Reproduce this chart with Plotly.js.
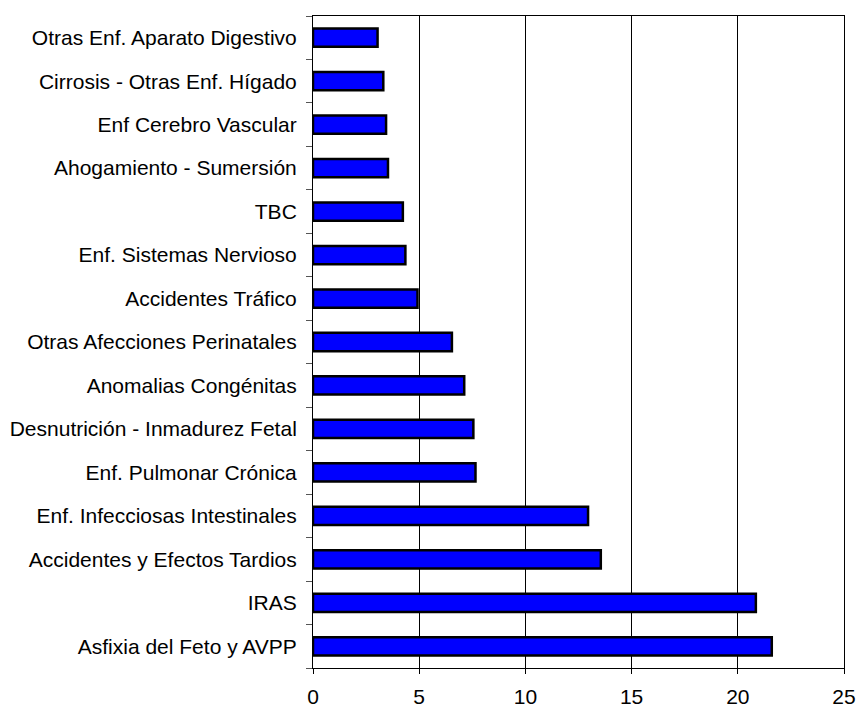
<!DOCTYPE html>
<html>
<head>
<meta charset="utf-8">
<script src="https://cdn.plot.ly/plotly-3.0.1.min.js"></script>
<style>html,body{margin:0;padding:0;background:#fff;}#chart{width:858px;height:707px;}</style>
</head>
<body>
<div id="chart"></div>
<script>
// categories from bottom to top
var categories = [
  "Asfixia del Feto y AVPP",
  "IRAS",
  "Accidentes y Efectos Tardios",
  "Enf. Infecciosas Intestinales",
  "Enf. Pulmonar Crónica",
  "Desnutrición - Inmadurez Fetal",
  "Anomalias Congénitas",
  "Otras Afecciones Perinatales",
  "Accidentes Tráfico",
  "Enf. Sistemas Nervioso",
  "TBC",
  "Ahogamiento - Sumersión",
  "Enf Cerebro Vascular",
  "Cirrosis - Otras Enf. Hígado",
  "Otras Enf. Aparato Digestivo"
];
var values = [21.6, 20.85, 13.55, 12.95, 7.65, 7.55, 7.12, 6.54, 4.92, 4.35, 4.23, 3.53, 3.44, 3.31, 3.04];
var xTicks = [0, 5, 10, 15, 20, 25];

var trace = {
  type: "bar",
  orientation: "h",
  x: values,
  y: categories,
  marker: {color: "#0000FF", line: {color: "#000000", width: 2.5}},
  hoverinfo: "x+y"
};

var layout = {
  width: 858,
  height: 707,
  margin: {l: 313, r: 14, t: 16, b: 39, pad: 0},
  paper_bgcolor: "#ffffff",
  plot_bgcolor: "#ffffff",
  showlegend: false,
  bargap: 0.58,
  font: {family: "Liberation Sans, Arial, sans-serif", size: 21, color: "#000"},
  xaxis: {
    range: [0, 25],
    tickvals: xTicks,
    ticktext: xTicks.map(String),
    showgrid: true,
    gridcolor: "#000000",
    gridwidth: 1,
    zeroline: false,
    showline: true,
    linecolor: "#000000",
    linewidth: 1,
    mirror: true,
    ticks: "outside",
    ticklen: 5,
    tickcolor: "#000000",
    ticklabelstandoff: 5,
    tickfont: {size: 21}
  },
  yaxis: {
    type: "category",
    categoryorder: "array",
    categoryarray: categories,
    showgrid: false,
    zeroline: false,
    showline: true,
    linecolor: "#000000",
    linewidth: 1,
    mirror: true,
    ticks: "outside",
    tickson: "boundaries",
    ticklen: 6,
    tickcolor: "#555555",
    ticklabelstandoff: 11,
    tickfont: {size: 21}
  }
};

Plotly.newPlot("chart", [trace], layout, {displayModeBar: false, staticPlot: true});
</script>
</body>
</html>
